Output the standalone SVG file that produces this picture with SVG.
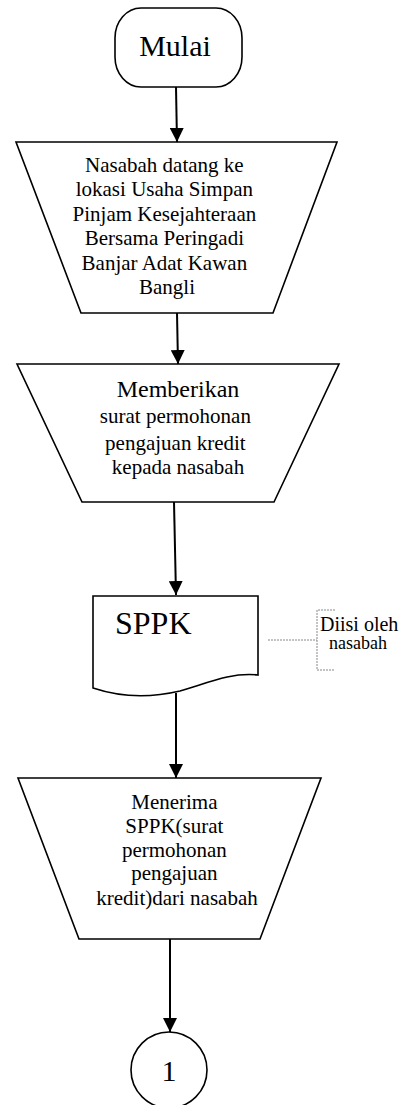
<svg xmlns="http://www.w3.org/2000/svg" width="409" height="1105" viewBox="0 0 409 1105">
<defs>
<marker id="ah" markerWidth="14" markerHeight="14" viewBox="0 0 14 14" refX="14" refY="7" orient="auto" markerUnits="userSpaceOnUse">
<path d="M0,0 L14,7 L0,14 Z" fill="#000"/>
</marker>
<style>
.sh{fill:#fff;stroke:#000;stroke-width:1.6}
.cn{fill:none;stroke:#000;stroke-width:2;marker-end:url(#ah)}
.t{font-family:'Liberation Serif','Times New Roman',serif;fill:#000;text-anchor:middle}
.n{font-family:'Liberation Serif','Times New Roman',serif;fill:#000}
.ann{fill:none;stroke:#888;stroke-width:1;stroke-dasharray:2,1}
</style>
</defs>
<rect width="409" height="1105" fill="#fff"/>
<g id="connectors">
<line class="cn" x1="176" y1="87" x2="177" y2="142"/>
<line class="cn" x1="177" y1="313" x2="178" y2="364"/>
<line class="cn" x1="174" y1="502" x2="176" y2="595"/>
<line class="cn" x1="176" y1="693" x2="176" y2="778"/>
<line class="cn" x1="170" y1="939" x2="170" y2="1032"/>
</g>
<g id="start">
<rect class="sh" x="115" y="8" width="127" height="79" rx="26" ry="30"/>
<text class="t" x="175" y="56" font-size="30" font-family="Liberation Serif, serif">Mulai</text>
</g>
<g id="step1">
<polygon class="sh" points="16,142 337,142 273,313 81,313"/>
<text class="t" font-size="21" font-family="Liberation Serif, serif">
<tspan x="167" y="172">Nasabah datang ke</tspan>
<tspan x="167" y="196">lokasi Usaha Simpan</tspan>
<tspan x="167" y="221">Pinjam Kesejahteraan</tspan>
<tspan x="167" y="245">Bersama Peringadi</tspan>
<tspan x="167" y="270">Banjar Adat Kawan</tspan>
<tspan x="167" y="294">Bangli</tspan>
</text>
</g>
<g id="step2">
<polygon class="sh" points="17,364 339,364 274,502 82,502"/>
<text class="t" x="178" y="397" font-size="24" font-family="Liberation Serif, serif">Memberikan</text>
<text class="t" font-size="21" font-family="Liberation Serif, serif">
<tspan x="178" y="423">surat permohonan</tspan>
<tspan x="178" y="450">pengajuan kredit</tspan>
<tspan x="178" y="474">kepada nasabah</tspan>
</text>
</g>
<g id="doc">
<path class="sh" d="M93,596 L258,596 L258,675 C230,672 205,684 180,691 C150,698 120,697 93,688 Z"/>
<text class="n" x="115" y="634" font-size="32" font-family="Liberation Serif, serif">SPPK</text>
</g>
<g id="note">
<path class="ann" d="M268,640 L317,640 M335,610 L317,610 L317,670 L335,670"/>
<text class="n" x="320" y="631" font-size="20" font-family="Liberation Serif, serif">Diisi oleh</text>
<text class="n" x="329" y="649" font-size="18" font-family="Liberation Serif, serif">nasabah</text>
</g>
<g id="step3">
<polygon class="sh" points="18,778 321,778 260,939 79,939"/>
<text class="t" font-size="21" font-family="Liberation Serif, serif">
<tspan x="177" y="809">Menerima</tspan>
<tspan x="177" y="833">SPPK(surat</tspan>
<tspan x="177" y="857">permohonan</tspan>
<tspan x="177" y="880">pengajuan</tspan>
<tspan x="177" y="905">kredit)dari nasabah</tspan>
</text>
</g>
<g id="end">
<circle class="sh" cx="169" cy="1070" r="38"/>
<text class="t" x="169" y="1081" font-size="30" font-family="Liberation Serif, serif">1</text>
</g>
</svg>
